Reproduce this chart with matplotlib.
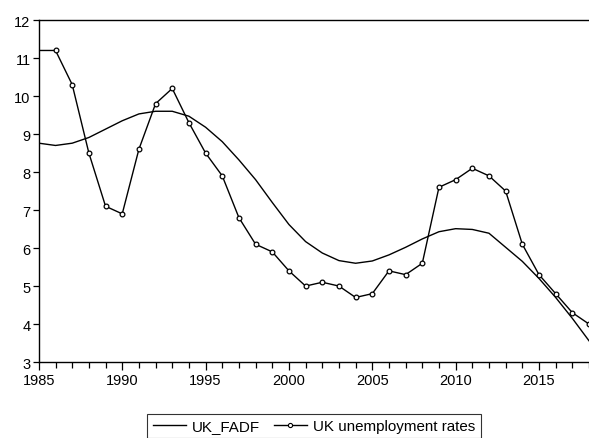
import numpy as np
import matplotlib
matplotlib.use("Agg")
import matplotlib.pyplot as plt
from matplotlib.ticker import MultipleLocator

years = list(range(1985, 2019))

unemployment = [11.2, 11.2, 10.3, 8.5, 7.1, 6.9, 8.6, 9.8, 10.2, 9.3,
                8.5, 7.9, 6.8, 6.1, 5.9, 5.4, 5.0, 5.1, 5.0, 4.7,
                4.8, 5.4, 5.3, 5.6, 7.6, 7.8, 8.1, 7.9, 7.5, 6.1,
                5.3, 4.8, 4.3, 4.0]

fadf = [8.76, 8.70, 8.76, 8.91, 9.13, 9.35, 9.53, 9.60, 9.60, 9.47,
        9.18, 8.80, 8.32, 7.80, 7.20, 6.62, 6.17, 5.87, 5.67, 5.60,
        5.66, 5.82, 6.02, 6.24, 6.43, 6.51, 6.49, 6.39, 6.02, 5.65,
        5.20, 4.70, 4.15, 3.56]

plt.rcParams["font.family"] = ["Liberation Sans", "DejaVu Sans"]

fig = plt.figure(figsize=(5.89, 4.39), dpi=100)
ax = fig.add_axes([0.066, 0.173, 0.934, 0.779])

ax.plot(years, fadf, color="black", lw=1.0, label="UK_FADF")
# first point sits under the left spine in the original, no marker drawn there
ax.plot(years, unemployment, color="black", lw=1.0, marker="o", ms=3.4,
        mfc="white", mec="black", mew=0.9, markevery=list(range(1, len(years))),
        label="UK unemployment rates")

ax.set_xlim(1985, 2018)
ax.set_ylim(3, 12)
ax.xaxis.set_major_locator(MultipleLocator(5))
ax.xaxis.set_minor_locator(MultipleLocator(1))
ax.yaxis.set_major_locator(MultipleLocator(1))

ax.tick_params(axis="both", labelsize=10.5, color="black", width=0.9)
ax.tick_params(axis="x", which="major", length=6, direction="out", pad=2)
ax.tick_params(axis="x", which="minor", length=4, direction="out", width=0.9)
ax.tick_params(axis="y", which="major", length=4, direction="out", pad=2)

for side in ("left", "top", "bottom"):
    ax.spines[side].set_linewidth(1.0)
ax.spines["right"].set_visible(False)

from matplotlib.lines import Line2D
handles = [
    Line2D([], [], color="black", lw=1.0),
    Line2D([], [], color="black", lw=1.0, marker="o", ms=3.0,
           mfc="white", mec="black", mew=0.8),
]
labels = ["UK_FADF", "UK unemployment rates"]
leg = fig.legend(handles, labels, loc="upper center",
                 bbox_to_anchor=(0.533, 0.055), ncol=2, fontsize=10.9,
                 frameon=True, fancybox=False, edgecolor="black",
                 handlelength=2.2, handletextpad=0.4, columnspacing=0.9,
                 borderpad=0.35, borderaxespad=0)
leg.get_frame().set_linewidth(0.8)

fig.savefig("out.png", dpi=100)
